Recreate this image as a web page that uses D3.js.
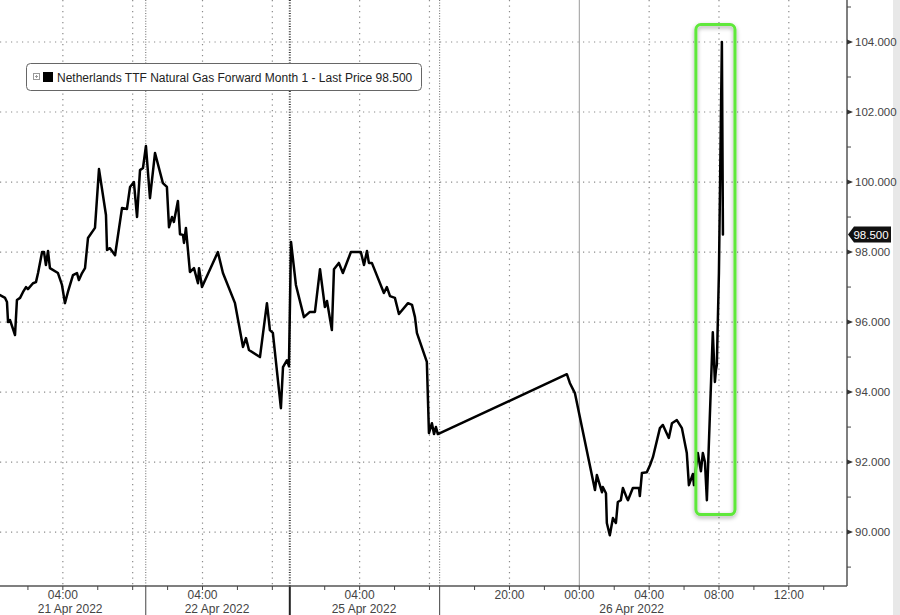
<!DOCTYPE html>
<html><head><meta charset="utf-8">
<script src="https://cdn.jsdelivr.net/npm/d3@7"></script>
<style>
html,body{margin:0;padding:0;background:#fff;}
svg{display:block;font-family:"Liberation Sans",Arial,sans-serif;}
</style></head><body>
<svg id="chart" width="900" height="615"></svg>
<script>
// ---------------- data ----------------
const seriesName = "Netherlands TTF Natural Gas Forward Month 1 - Last Price 98.500";
const lastPrice = 98.5;
// trading sessions shown on the compressed time axis
const sessionStarts = ["2022-04-21T00:24","2022-04-22T00:45","2022-04-25T00:00","2022-04-25T16:00"];
const sessionEnds   = ["2022-04-21T08:45","2022-04-22T09:00","2022-04-25T08:35","2022-04-26T15:20"];
const weekStartSession = 2;
// price points: trading hours elapsed since chart start, and price
const priceHours = [0.00,0.29,0.40,0.46,0.57,0.86,0.97,1.15,1.32,1.49,1.60,1.89,2.06,2.18,2.41,2.52,2.63,2.75,2.86,3.32,3.55,3.72,3.89,4.18,4.41,4.52,4.70,4.87,5.04,5.44,5.67,6.07,6.13,6.30,6.59,6.99,7.27,7.45,7.67,7.85,7.90,8.02,8.19,8.36,8.59,8.88,9.33,9.56,9.68,9.85,9.96,10.19,10.31,10.48,10.54,10.65,10.88,11.11,11.34,11.40,11.57,12.48,12.77,13.46,13.92,14.09,14.26,14.89,15.29,15.46,15.63,16.09,16.21,16.44,16.55,16.67,16.95,17.41,17.75,18.04,18.33,18.61,18.73,19.01,19.13,19.41,19.64,20.10,20.67,20.85,21.02,21.13,21.30,21.99,22.16,22.34,22.62,22.85,23.37,23.60,23.77,23.88,24.45,24.57,24.74,24.86,24.97,25.08,32.47,32.64,32.93,34.08,34.19,34.48,34.53,34.71,34.76,34.93,35.11,35.28,35.39,35.56,35.68,35.91,35.97,36.25,36.60,36.65,36.77,37.05,37.23,37.40,37.80,37.97,38.31,38.49,38.77,39.06,39.34,39.46,39.69,39.75,39.97,40.15,40.26,40.38,40.49,40.83,40.95,41.01,41.06,41.18,41.35,41.41];
const priceValues = [96.77,96.69,96.57,96.00,96.06,95.63,96.63,96.69,96.86,97.00,96.94,97.11,97.14,97.40,98.00,98.00,97.63,98.03,97.54,97.40,97.06,96.54,96.86,97.34,97.40,97.20,97.40,97.54,98.40,98.69,100.37,99.06,98.06,98.11,97.91,99.26,99.23,99.86,100.00,99.00,99.40,100.34,100.40,101.03,99.54,100.83,99.97,99.86,98.71,99.00,98.86,99.46,98.51,98.49,98.26,98.69,97.43,97.54,97.11,97.54,97.00,98.00,97.40,96.54,95.29,95.54,95.20,95.00,96.54,95.77,95.69,93.54,94.71,94.91,94.74,98.29,97.06,96.14,96.29,96.29,97.51,96.43,96.60,95.77,97.51,97.69,97.40,98.00,98.00,97.63,98.03,97.69,97.69,96.83,97.00,96.74,96.69,96.23,96.54,96.49,96.14,95.69,94.86,92.83,93.11,92.80,93.00,92.80,94.51,94.26,93.97,91.20,91.63,91.14,91.29,91.11,90.26,89.91,90.40,90.26,90.86,90.91,91.26,90.97,90.91,91.26,91.26,91.03,91.69,91.71,91.91,92.14,92.97,93.06,92.69,93.11,93.20,92.97,92.26,91.34,91.66,91.34,92.26,91.74,92.26,92.00,90.91,95.71,94.29,94.63,94.77,97.40,104.00,98.50];
const yTickValues = [90,92,94,96,98,100,102,104];
const yMinorValues = [89,91,93,95,97,99,101,103,105];
const dateLabels = ["21 Apr 2022","22 Apr 2022","25 Apr 2022","26 Apr 2022"];
const dateLabelTimes = ["2022-04-21T04:25","2022-04-22T04:50","2022-04-25T04:15","2022-04-26T03:00"];
const highlightHours = [39.86, 42.1];
const highlightPrices = [90.5, 104.5];

// ---------------- layout ----------------
const W = 900, H = 615;
const plotRight = 847, axisY = 586;
const svg = d3.select("#chart");

const parse = d3.timeParse("%Y-%m-%dT%H:%M");
const starts = sessionStarts.map(parse), ends = sessionEnds.map(parse);
const tDomain = [], hRange = [];
let cum = 0;
starts.forEach((s, i) => {
  tDomain.push(s, ends[i]);
  hRange.push(cum);
  cum += (ends[i] - s) / 3.6e6;
  hRange.push(cum);
});
const timeToH = d3.scaleTime().domain(tDomain).range(hRange);
const totalH = cum;
const sessionStartH = starts.map(s => timeToH(s));

const x = d3.scaleLinear().domain([0, totalH]).range([0, plotRight]);
const y = d3.scaleLinear().domain([88.46, 105.2]).range([axisY, 0]);

// background right strip
svg.append("rect").attr("x", 893).attr("y", 0).attr("width", 7).attr("height", H).attr("fill", "#e8e8e8");

const defs = svg.append("defs");
const f = defs.append("filter").attr("id", "sh").attr("x", "-50%").attr("y", "-10%").attr("width", "200%").attr("height", "120%");
f.append("feDropShadow").attr("dx", 0).attr("dy", 2).attr("stdDeviation", 2).attr("flood-color", "#000").attr("flood-opacity", 0.35);

// ticks on time axis
const timeTicks = [];
starts.forEach((s, i) => {
  d3.timeHour.every(2).range(s, ends[i]).forEach(t => {
    if (+t === +s) return;
    const hr = t.getHours();
    timeTicks.push({
      t, h: timeToH(t),
      grid: hr % 4 === 0,
      label: hr % 4 === 0 && (ends[i] - t) / 3.6e6 > 1,
      midnight: hr === 0
    });
  });
});

const g = svg.append("g");
// horizontal grid
g.selectAll(".hg").data(yTickValues).join("line")
  .attr("x1", 0).attr("x2", plotRight)
  .attr("y1", d => y(d)).attr("y2", d => y(d))
  .attr("stroke", "#8a8a8a").attr("stroke-width", 1.2).attr("stroke-dasharray", "1.2,4.3");
// vertical grid
g.selectAll(".vg").data(timeTicks.filter(d => d.grid)).join("line")
  .attr("x1", d => x(d.h)).attr("x2", d => x(d.h))
  .attr("y1", 0).attr("y2", axisY)
  .attr("stroke", d => d.midnight ? "#9a9a9a" : "#8a8a8a")
  .attr("stroke-width", d => d.midnight ? 1 : 1.2)
  .attr("stroke-dasharray", d => d.midnight ? null : "1.2,4.3");
// session separators
const seps = sessionStartH.slice(1).map((h, i) => ({h, week: i + 1 === weekStartSession}));
g.selectAll(".sep").data(seps).join("line")
  .attr("x1", d => x(d.h)).attr("x2", d => x(d.h))
  .attr("y1", 0).attr("y2", axisY)
  .attr("stroke", d => d.week ? "#333" : "#666")
  .attr("stroke-width", d => d.week ? 2 : 1)
  .attr("stroke-dasharray", "1,1.6");
g.selectAll(".sepb").data(seps).join("line")
  .attr("x1", d => x(d.h)).attr("x2", d => x(d.h))
  .attr("y1", axisY).attr("y2", H)
  .attr("stroke", d => d.week ? "#222" : "#444")
  .attr("stroke-width", d => d.week ? 2 : 1);

// price line
const pts = d3.zip(priceHours, priceValues);
svg.append("path").datum(pts)
  .attr("fill", "none").attr("stroke", "#000").attr("stroke-width", 2.5)
  .attr("stroke-linejoin", "round").attr("stroke-linecap", "round")
  .attr("d", d3.line().x(d => x(d[0])).y(d => y(d[1])));

// highlight box
svg.append("rect")
  .attr("x", x(highlightHours[0])).attr("y", y(highlightPrices[1]))
  .attr("width", x(highlightHours[1]) - x(highlightHours[0]))
  .attr("height", y(highlightPrices[0]) - y(highlightPrices[1]))
  .attr("rx", 5).attr("fill", "none").attr("stroke", "#5ee83a").attr("stroke-width", 3)
  .attr("filter", "url(#sh)");

// axes lines
svg.append("line").attr("x1", 0).attr("x2", plotRight).attr("y1", axisY).attr("y2", axisY).attr("stroke", "#555").attr("stroke-width", 1.5);
svg.append("line").attr("x1", plotRight).attr("x2", plotRight).attr("y1", 0).attr("y2", axisY).attr("stroke", "#555").attr("stroke-width", 1.5);

// y ticks and labels
svg.selectAll(".ymaj").data(yTickValues).join("path")
  .attr("d", d => `M${plotRight},${y(d) - 2.5}L${plotRight + 6},${y(d)}L${plotRight},${y(d) + 2.5}Z`)
  .attr("fill", "#333");
svg.selectAll(".ymin").data(yMinorValues).join("line")
  .attr("x1", plotRight).attr("x2", plotRight + 4)
  .attr("y1", d => y(d)).attr("y2", d => y(d))
  .attr("stroke", "#444").attr("stroke-width", 1);
svg.selectAll(".ylab").data(yTickValues).join("text")
  .attr("x", plotRight + 8).attr("y", d => y(d) + 4)
  .attr("font-size", 11.5).attr("fill", "#444")
  .text(d => d3.format(".3f")(d));

// x ticks and labels
svg.selectAll(".xt").data(timeTicks).join("line")
  .attr("x1", d => x(d.h)).attr("x2", d => x(d.h))
  .attr("y1", axisY).attr("y2", axisY + 4)
  .attr("stroke", "#444").attr("stroke-width", 1);
svg.selectAll(".xl").data(timeTicks.filter(d => d.label)).join("text")
  .attr("x", d => x(d.h)).attr("y", 599)
  .attr("text-anchor", "middle").attr("font-size", 12).attr("fill", "#444")
  .text(d => d3.timeFormat("%H:%M")(d.t));
svg.selectAll(".dl").data(d3.zip(dateLabels, dateLabelTimes)).join("text")
  .attr("x", d => x(timeToH(parse(d[1])))).attr("y", 613)
  .attr("text-anchor", "middle").attr("font-size", 12).attr("fill", "#444")
  .text(d => d[0]);

// last price marker
const ly = y(lastPrice);
svg.append("path")
  .attr("d", `M${plotRight + 1},${ly}L${plotRight + 7},${ly - 8}L891,${ly - 8}L891,${ly + 8}L${plotRight + 7},${ly + 8}Z`)
  .attr("fill", "#111");
svg.append("text").attr("x", 871).attr("y", ly + 4).attr("text-anchor", "middle")
  .attr("font-size", 11.5).attr("fill", "#fff").text(d3.format(".3f")(lastPrice));

// legend
const lg = svg.append("g");
lg.append("rect").attr("x", 26.5).attr("y", 63.5).attr("width", 395).attr("height", 27).attr("rx", 4)
  .attr("fill", "#fff").attr("stroke", "#666").attr("stroke-width", 1);
lg.append("rect").attr("x", 33.5).attr("y", 73.5).attr("width", 6).attr("height", 6).attr("fill", "none").attr("stroke", "#999").attr("stroke-width", 1);
lg.append("path").attr("d", "M35,76.5H38M36.5,75V78").attr("stroke", "#999").attr("stroke-width", 1);
lg.append("rect").attr("x", 43).attr("y", 72).attr("width", 10).attr("height", 10).attr("fill", "#000");
lg.append("text").attr("x", 57).attr("y", 81.5).attr("font-size", 12).attr("fill", "#222").text(seriesName);
</script>
</body></html>
